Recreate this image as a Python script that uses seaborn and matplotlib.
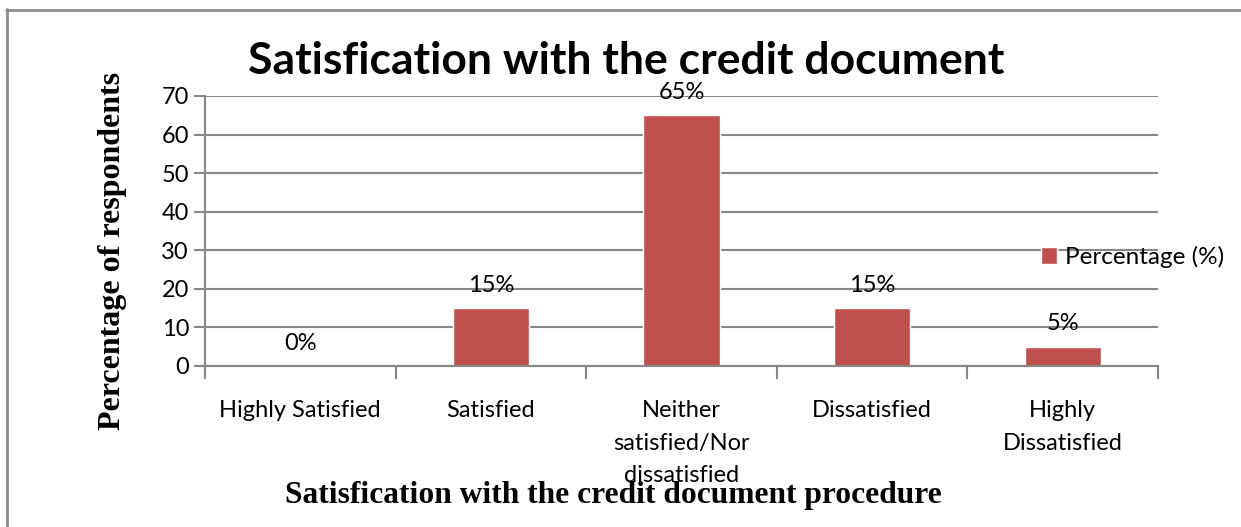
import matplotlib
matplotlib.use("Agg")
import matplotlib.pyplot as plt
from matplotlib.lines import Line2D
import seaborn as sns
import pandas as pd

# Survey responses: share of respondents per satisfaction level
categories = ["Highly Satisfied", "Satisfied", "Neither\nsatisfied/Nor\ndissatisfied",
              "Dissatisfied", "Highly\nDissatisfied"]
percentages = [0, 15, 65, 15, 5]
series_name = "Percentage (%)"
yticks = [0, 10, 20, 30, 40, 50, 60, 70]

title = "Satisfication with the credit document"
xlabel = "Satisfication with the credit document procedure"
ylabel = "Percentage of respondents"

bar_color = "#C0504D"
grid_color = "#878787"

sns.set_theme(style="white")
plt.rcParams["font.family"] = ["Lato", "DejaVu Sans"]
plt.rcParams["text.color"] = "black"
plt.rcParams["xtick.labelcolor"] = "black"
plt.rcParams["ytick.labelcolor"] = "black"

df = pd.DataFrame({"category": categories, "value": percentages, "series": series_name})

W, H = 1241, 527
fig = plt.figure(figsize=(W / 100, H / 100), dpi=100)
ax = fig.add_axes([205 / W, 1 - 366 / H, (1158 - 205) / W, (366 - 96) / H])

sns.barplot(data=df, x="category", y="value", hue="series", palette=[bar_color],
            width=0.4, saturation=1, ax=ax, legend=True)

ax.set_ylim(0, 70)
ax.set_xlim(-0.5, len(categories) - 0.5)
ax.set_yticks(yticks)
ax.set_yticklabels([str(t) for t in yticks], fontsize=17)
ax.yaxis.grid(True, color=grid_color, linewidth=1.5)
ax.set_axisbelow(True)

# category labels without tick marks; boundary ticks drawn as minor ticks
ax.set_xticks(range(len(categories)))
ax.set_xticklabels(categories, fontsize=17, linespacing=1.68, va="top")
ax.tick_params(axis="x", which="major", length=0, pad=24.5)
ax.set_xticks([i - 0.5 for i in range(len(categories) + 1)], minor=True)
ax.tick_params(axis="x", which="minor", length=9, width=1.5, color=grid_color, bottom=True)
ax.tick_params(axis="y", length=8, width=1.5, color=grid_color, left=True, pad=3.5)

for side in ["top", "right"]:
    ax.spines[side].set_visible(False)
for side in ["left", "bottom"]:
    ax.spines[side].set_color(grid_color)
    ax.spines[side].set_linewidth(1.5)

ax.set_xlabel("")
ax.set_ylabel("")

for container in ax.containers:
    ax.bar_label(container, labels=[f"{v}%" for v in percentages], fontsize=17,
                 padding=9, color="black")

leg = ax.legend(loc="center left", bbox_to_anchor=(1041 / W, 1 - 257 / H),
                bbox_transform=fig.transFigure, frameon=False, fontsize=17.5,
                handlelength=0.65, handleheight=0.65, handletextpad=0.35,
                borderaxespad=0, borderpad=0)

fig.text(626 / W, 1 - 61 / H, title, ha="center", va="center",
         fontsize=32, fontweight="bold", color="black")
fig.text(113 / W, 1 - 251 / H, ylabel, ha="center", va="center", rotation=90,
         fontsize=23, fontweight="bold", color="black",
         family=["Liberation Serif", "DejaVu Serif"])
fig.text(613 / W, 1 - 495 / H, xlabel, ha="center", va="center",
         fontsize=22.7, fontweight="bold", color="black",
         family=["Liberation Serif", "DejaVu Serif"])

# outer chart frame along the left and top edges
fig.add_artist(Line2D([6.5 / W, 6.5 / W], [0, 1 - 9 / H], transform=fig.transFigure,
                      color="#8c8c8c", linewidth=2))
fig.add_artist(Line2D([6 / W, 1], [1 - 9.5 / H, 1 - 9.5 / H], transform=fig.transFigure,
                      color="#8c8c8c", linewidth=2))

fig.savefig("out.png", dpi=100)
